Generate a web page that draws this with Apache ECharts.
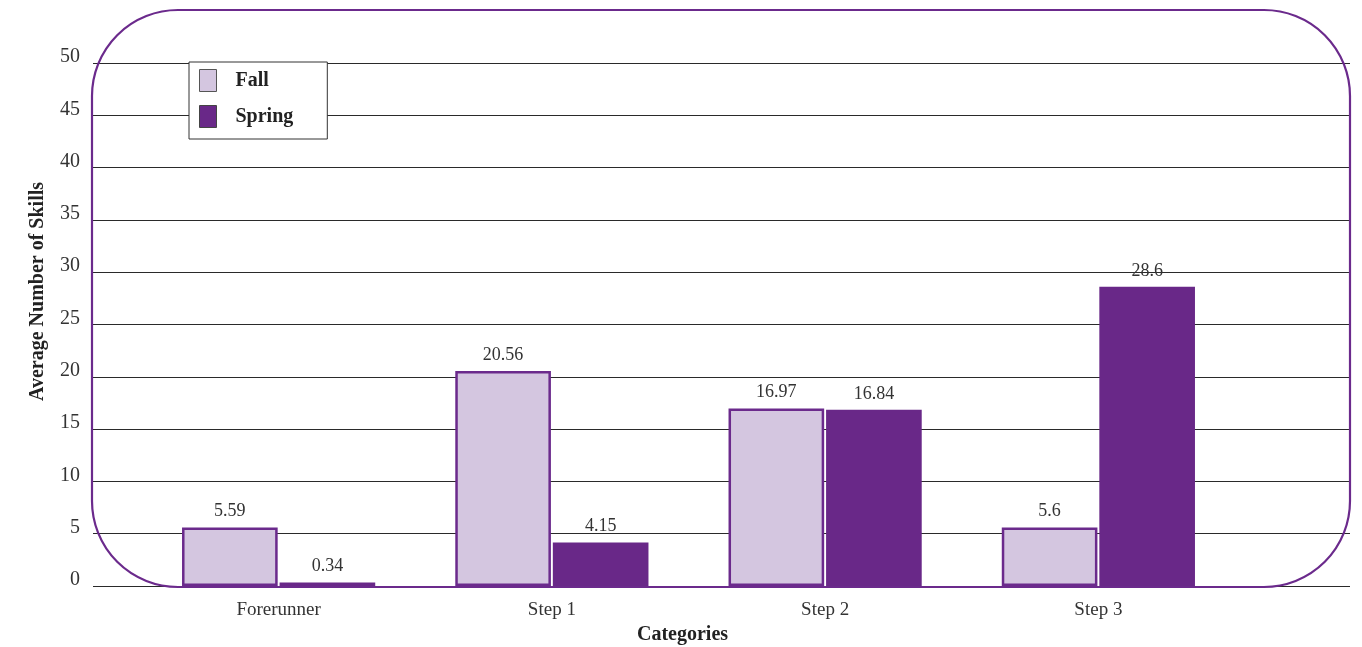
<!DOCTYPE html>
<html>
<head>
<meta charset="utf-8">
<script src="https://cdn.jsdelivr.net/npm/echarts@6/dist/echarts.min.js"></script>
<style>html,body{margin:0;padding:0;background:#fff}#c{width:1362px;height:647px}</style>
</head>
<body>
<div id="c"></div>
<script>
const categories = ['Forerunner', 'Step 1', 'Step 2', 'Step 3'];
const fallValues = [5.59, 20.56, 16.97, 5.6];
const springValues = [0.34, 4.15, 16.84, 28.6];
const yMin = 0, yMax = 50, yStep = 5;

const serif = 'Liberation Serif';
const chart = echarts.init(document.getElementById('c'));
chart.setOption({
  backgroundColor: '#fff',
  animation: false,
  textStyle: { fontFamily: serif },
  grid: [
    { left: 93, right: 12, top: 63, bottom: 61, outerBoundsMode: 'none', containLabel: false },
    { left: 142, right: 127, top: 63, bottom: 61, outerBoundsMode: 'none', containLabel: false }
  ],
  legend: {
    orient: 'vertical',
    left: 189, top: 62,
    padding: [7, 34, 11, 10],
    itemWidth: 17, itemHeight: 22, itemGap: 13,
    backgroundColor: '#fff',
    borderColor: '#333', borderWidth: 1,
    textStyle: { fontFamily: serif, fontWeight: 'bold', fontSize: 20, color: '#222', padding: [4, 0, 0, 14] },
    data: [
      { name: 'Fall', icon: 'rect', itemStyle: { color: '#d4c6e0', borderColor: '#555', borderWidth: 1 } },
      { name: 'Spring', icon: 'rect', itemStyle: { color: '#692888', borderColor: '#444', borderWidth: 1 } }
    ],
    z: 10
  },
  xAxis: [
    { type: 'value', gridIndex: 0, show: false, min: 0, max: 1 },
    {
      type: 'category', gridIndex: 1, data: categories,
      axisLine: { show: false }, axisTick: { show: false },
      axisLabel: { fontFamily: serif, fontSize: 19, color: '#333', margin: 15 },
      name: 'Categories', nameLocation: 'middle', nameGap: 39,
      nameTextStyle: { fontFamily: serif, fontWeight: 'bold', fontSize: 20, color: '#222', padding: [0, 12, 0, 0] }
    }
  ],
  yAxis: [
    {
      type: 'value', gridIndex: 0, min: yMin, max: yMax, interval: yStep,
      axisLine: { show: false }, axisTick: { show: false },
      axisLabel: { fontFamily: serif, fontSize: 20, color: '#333', margin: 13, verticalAlign: 'bottom', lineHeight: 12 },
      splitLine: { lineStyle: { color: '#2a2a2a', width: 1.2 } },
      name: 'Average Number of Skills', nameLocation: 'middle', nameGap: 45,
      nameTextStyle: { fontFamily: serif, fontWeight: 'bold', fontSize: 20, color: '#222', padding: [0, 0, 0, 66] }
    },
    { type: 'value', gridIndex: 1, min: yMin, max: yMax, interval: yStep, show: false, splitLine: { show: false } }
  ],
  graphic: [
    {
      type: 'rect', z: 1, silent: true,
      shape: { x: 92, y: 10, width: 1258, height: 577, r: 86 },
      style: { fill: 'none', stroke: '#6b2a8c', lineWidth: 2.2 }
    }
  ],
  series: [
    {
      name: 'Fall', type: 'bar', xAxisIndex: 1, yAxisIndex: 1,
      data: fallValues, barWidth: '35%', barGap: '2%', z: 3,
      itemStyle: { color: '#d4c6e0', borderColor: '#6b2a8c', borderWidth: 2.5 },
      label: { show: true, position: 'top', distance: 7, fontFamily: serif, fontSize: 18, color: '#333' }
    },
    {
      name: 'Spring', type: 'bar', xAxisIndex: 1, yAxisIndex: 1,
      data: springValues, barWidth: '35%', barGap: '2%', z: 3,
      itemStyle: { color: '#692888' },
      label: { show: true, position: 'top', distance: 7, fontFamily: serif, fontSize: 18, color: '#333' }
    }
  ]
});
</script>
</body>
</html>
